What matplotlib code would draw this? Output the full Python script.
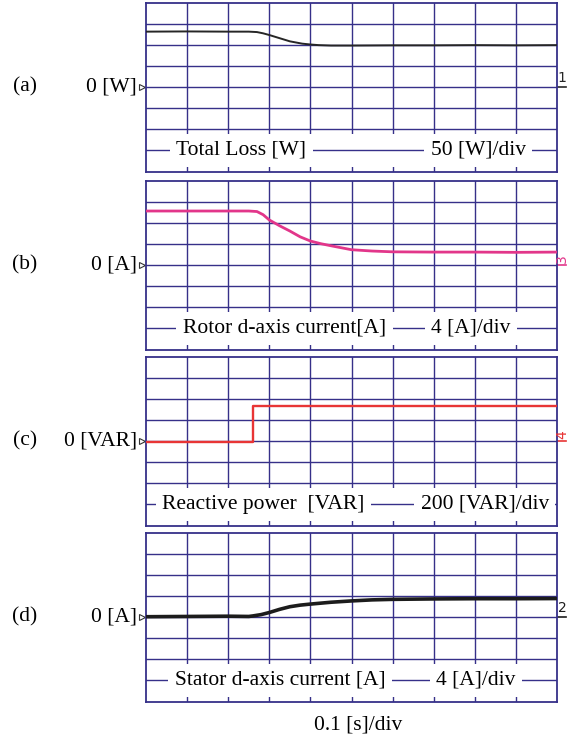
import matplotlib.pyplot as plt
from matplotlib.patches import Rectangle
from matplotlib.transforms import blended_transform_factory

# 字体：Times 风格
plt.rcParams['font.family'] = ['Liberation Serif', 'DejaVu Serif']

# ---------------- 数据（从示波器截图读取） ----------------
# (a) 总损耗 [W]
t_loss = [0.0, 0.1, 0.2, 0.25, 0.27, 0.285, 0.30, 0.32, 0.35, 0.38, 0.40, 0.42, 0.45, 0.5, 0.6, 0.7, 0.8, 0.9, 1.0]
loss = [132, 132.5, 132, 132, 131, 128, 124, 118, 109, 103.5, 101.5, 100, 99, 99, 99.5, 99.5, 100, 99.5, 100]

# (b) 转子 d 轴电流 [A]
t_rotor = [0.0, 0.1, 0.2, 0.25, 0.27, 0.285, 0.30, 0.325, 0.35, 0.375, 0.40, 0.425, 0.45, 0.5, 0.55, 0.6, 0.7, 0.8, 0.9, 1.0]
rotor_id = [10.3, 10.3, 10.3, 10.3, 10.2, 9.6, 8.6, 7.5, 6.5, 5.4, 4.6, 4.1, 3.7, 2.95, 2.7, 2.55, 2.5, 2.5, 2.45, 2.5]

# (c) 无功功率 [VAR]
t_var = [0.0, 0.26, 1.0]
var = [-8, 332, 332]

# (d) 定子 d 轴电流 [A]
t_stator = [0.0, 0.1, 0.2, 0.25, 0.26, 0.28, 0.30, 0.325, 0.35, 0.375, 0.40, 0.45, 0.5, 0.55, 0.6, 0.7, 0.8, 0.9, 1.0]
stator_id = [0.1, 0.15, 0.2, 0.15, 0.25, 0.5, 0.9, 1.5, 2.0, 2.3, 2.5, 2.85, 3.1, 3.3, 3.4, 3.48, 3.52, 3.52, 3.55]

# 每格刻度
per_div = [50, 4, 200, 4]
panel_tags = ['(a)', '(b)', '(c)', '(d)']
zero_labels = ['0 [W]', '0 [A]', '0 [VAR]', '0 [A]']
name_labels = ['Total Loss [W]', 'Rotor d-axis current[A]', 'Reactive power  [VAR]', 'Stator d-axis current [A]']
div_labels = ['50 [W]/div', '4 [A]/div', '200 [VAR]/div', '4 [A]/div']
name_x = [0.232, 0.337, 0.286, 0.326]   # 横坐标 [s]
div_x = [0.808, 0.790, 0.824, 0.803]
ch_marks = ['1', '3', '4', '2']
ch_rot = [0, 90, 90, 0]
colors = ['#262626', '#e2368a', '#e83535', '#1c1c1c']
lws = [1.4, 2.0, 1.7, 2.6]

grid_c = '#363089'

fig = plt.figure(figsize=(5.68, 7.40), dpi=100)
W, H = 568.0, 740.0
# 每个面板的上下边界（像素）
tops = [3, 181, 357, 533]
height = 168.5
left, width = 146, 411

series = [(t_loss, loss), (t_rotor, rotor_id), (t_var, var), (t_stator, stator_id)]

for i in range(4):
    ax = fig.add_axes([left / W, (H - tops[i] - height) / H, width / W, height / H])
    d = per_div[i]
    ax.set_xlim(0, 1.0)
    ax.set_ylim(-4 * d, 4 * d)
    ax.set_xticks([])
    ax.set_yticks([])
    for s in ax.spines.values():
        s.set_color(grid_c)
        s.set_linewidth(1.3)

    # 网格 10 x 8
    for k in range(1, 10):
        ax.axvline(k * 0.1, color=grid_c, lw=1.0, zorder=1)
    for k in range(-3, 4):
        ax.axhline(k * d, color=grid_c, lw=1.0, zorder=1)

    # 标签区域
    ax.add_patch(Rectangle((0, -3.8 * d), 1.0, 1.6 * d, facecolor='white', edgecolor='none', zorder=2))
    ax.axhline(-3 * d, color=grid_c, lw=1.0, zorder=2.1)
    box = dict(facecolor='white', edgecolor='none', boxstyle='square,pad=0.3')
    ax.text(name_x[i], -3 * d, name_labels[i], fontsize=15.5, ha='center', va='center',
            bbox=box, zorder=2.3)
    ax.text(div_x[i], -3 * d, div_labels[i], fontsize=15.5, ha='center', va='center',
            bbox=box, zorder=2.3)

    # 波形
    tx, vy = series[i]
    if i == 2:
        ax.step(tx, vy, where='post', color=colors[i], lw=lws[i], zorder=4)
    else:
        ax.plot(tx, vy, color=colors[i], lw=lws[i], zorder=4)

    # 左侧标签和零位标记
    tr = blended_transform_factory(fig.transFigure, ax.transData)
    ax.text(25 / W, 0, panel_tags[i], transform=tr, fontsize=15.5, ha='center', va='center')
    ax.text(137 / W, 0, zero_labels[i], transform=tr, fontsize=15.5, ha='right', va='center')
    ax.plot([141.5 / W], [0], transform=tr, marker='>', ms=5, mfc='white', mec='#333333',
            mew=0.8, clip_on=False)

    # 右侧通道标记
    ax.plot([1.003, 1.022], [0, 0], color=colors[i], lw=1.2, clip_on=False)
    ax.text(1.0125, 0.12 * d, ch_marks[i], fontsize=10, family='DejaVu Sans', color=colors[i],
            ha='center', va='bottom', rotation=ch_rot[i], clip_on=False)

fig.text(358 / W, 15 / H, '0.1 [s]/div', fontsize=15.5, ha='center', va='center')

plt.savefig('out.png', dpi=100)
